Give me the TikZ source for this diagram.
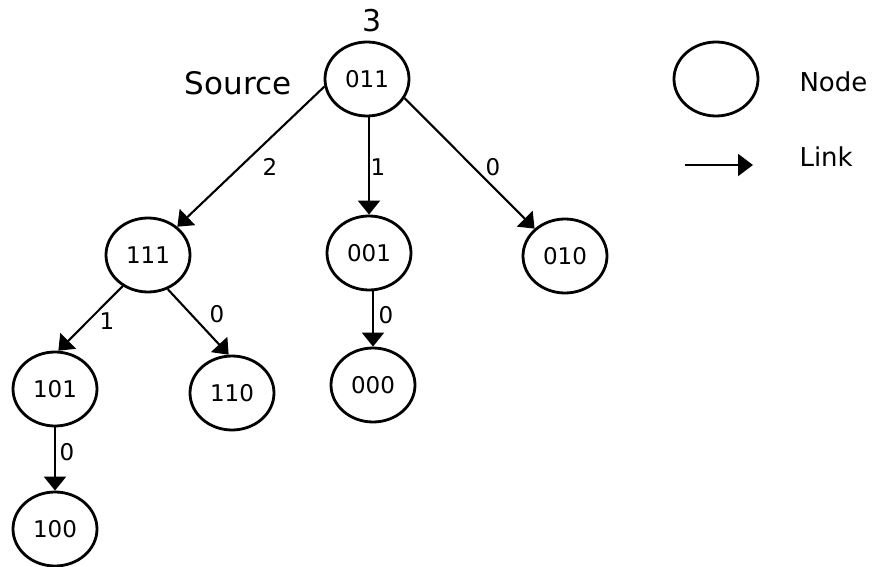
\documentclass[tikz,border=0pt]{standalone}
\usepackage{fontspec}
\setmainfont{DejaVu Sans}
\usetikzlibrary{shapes.geometric,arrows.meta}
\begin{document}
\begin{tikzpicture}[x=1pt,y=-1pt,
  nd/.style={ellipse,draw,line width=2.8pt,minimum width=84pt,minimum height=74pt,inner sep=0pt,font=\fontsize{23}{23}\selectfont},
  link/.style={line width=2.1pt,-{Triangle[width=22pt,length=14pt]}},
  lbl/.style={font=\fontsize{23}{23}\selectfont,inner sep=0pt},
  txt/.style={font=\fontsize{26}{26}\selectfont,anchor=west}]
\useasboundingbox (0,0) rectangle (879,567);

% tree nodes
\node[nd] (n011) at (367,79) {011};
\node[nd] (n111) at (148,255) {111};
\node[nd] (n001) at (369,253) {001};
\node[nd] (n010) at (565,256) {010};
\node[nd] (n101) at (55,389) {101};
\node[nd] (n110) at (232,393) {110};
\node[nd] (n000) at (373,385) {000};
\node[nd] (n100) at (55,529) {100};

% annotations of the source
\node[font=\fontsize{30}{30}\selectfont] (cnt) at (372,21) {3};
\node[font=\fontsize{31}{31}\selectfont] (src) at (238,83) {Source};

% links
\draw[link] (n011.190) -- (n111.44);
\draw[link] (n011.south -| n001.north) -- (n001.north);
\draw[link] (n011.333) -- (n010.138);
\draw[link] (n111.231) -- (n101.85);
\draw[link] (n111.300) -- (n110.95);
\draw[link] (n001.south -| n000.north) -- (n000.north);
\draw[link] (n101.south) -- (n100.north);

% link labels
\node[lbl] (l2) at (270,167) {2};
\node[lbl] (l1) at (378,167) {1};
\node[lbl] (l0) at (493,167) {0};
\node[lbl] (m1) at (107,321) {1};
\node[lbl] (m0) at (217,314) {0};
\node[lbl] (k0) at (386,315) {0};
\node[lbl] (j0) at (67,452) {0};

% legend
\node[nd] (legnode) at (716,79) {};
\node[txt] (legnodetxt) at (796,82) {Node};
\coordinate (la) at (685,165);
\coordinate (lb) at (753,165);
\draw[line width=2.1pt,-{Triangle[width=22pt,length=15pt]}] (la) -- (lb);
\node[txt] (leglinktxt) at (796,157) {Link};
\end{tikzpicture}
\end{document}
